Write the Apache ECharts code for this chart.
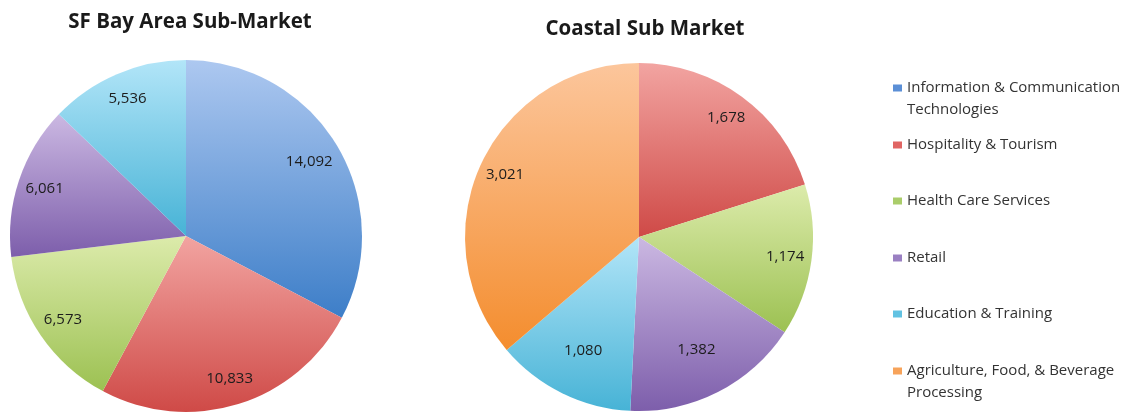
<!DOCTYPE html>
<html>
<head>
<meta charset="utf-8">
<script src="https://cdn.jsdelivr.net/npm/echarts@6/dist/echarts.min.js"></script>
<style>
  html, body { margin: 0; padding: 0; background: #ffffff; }
  #chart { width: 1128px; height: 416px; }
</style>
</head>
<body>
<div id="chart"></div>
<script>
// Employment by industry cluster, two sub-markets
const categories = [
  'Information & Communication Technologies',
  'Hospitality & Tourism',
  'Health Care Services',
  'Retail',
  'Education & Training',
  'Agriculture, Food, & Beverage Processing'
];
const legendLabels = [
  'Information & Communication\nTechnologies',
  'Hospitality & Tourism',
  'Health Care Services',
  'Retail',
  'Education & Training',
  'Agriculture, Food, & Beverage\nProcessing'
];
const bayAreaCategories = categories.slice(0, 5);
const bayAreaValues = [14092, 10833, 6573, 6061, 5536];
const coastalCategories = categories.slice(1);
const coastalValues = [1678, 1174, 1382, 1080, 3021];

// how far out (fraction of the radius) each value label sits
const bayAreaLabelDepth = [0.8, 0.83, 0.83, 0.83, 0.83];
const coastalLabelDepth = [0.83, 0.83, 0.71, 0.71, 0.83];

// light (top) / deep (bottom) / legend swatch shade per cluster
const shades = {
  'Information & Communication Technologies': ['#adc8f0', '#3d7ec8', '#5b8fd6'],
  'Hospitality & Tourism': ['#f2a4a1', '#cf4a47', '#e06563'],
  'Health Care Services': ['#dcebab', '#9cc152', '#aacd6a'],
  'Retail': ['#cbb8e2', '#7d5eab', '#9a80c2'],
  'Education & Training': ['#b2e5f8', '#47b3d6', '#62c2e2'],
  'Agriculture, Food, & Beverage Processing': ['#fcc69c', '#f48d2e', '#f7a35a']
};

function fill(name) {
  const s = shades[name];
  return new echarts.graphic.LinearGradient(0, 0, 0, 1, [
    { offset: 0, color: s[0] },
    { offset: 1, color: s[1] }
  ]);
}

const fmt = p => p.value.toLocaleString('en-US');
const labelStyle = {
  show: true,
  position: 'inside',
  formatter: fmt,
  color: '#1c1c1c',
  fontSize: 15,
  fontFamily: 'Open Sans'
};

function pieSeries(center, r, names, values, depths) {
  const out = [{
    type: 'pie',
    center: center,
    radius: [0, r],
    startAngle: 90,
    clockwise: true,
    silent: true,
    label: { show: false },
    labelLine: { show: false },
    itemStyle: { borderWidth: 0 },
    data: names.map((n, i) => ({ name: n, value: values[i], itemStyle: { color: fill(n) } }))
  }];
  // transparent rings carry the value labels; one ring per label depth
  const uniq = depths.filter((d, i) => depths.indexOf(d) === i);
  uniq.forEach(d => {
    out.push({
      type: 'pie',
      center: center,
      radius: [Math.round(r * (2 * d - 1)), r],
      startAngle: 90,
      clockwise: true,
      silent: true,
      itemStyle: { color: 'rgba(0,0,0,0)', borderWidth: 0 },
      label: labelStyle,
      labelLine: { show: false },
      data: names.map((n, i) => ({ name: n, value: values[i], label: { show: depths[i] === d } }))
    });
  });
  return out;
}

// one legend block per cluster so every entry keeps its own slot;
// wrapped names get an empty leading line so the swatch lines up with the first line
const lineH = 22;
const firstRowY = 88;
const rowStep = 56.6;
const legends = categories.map((name, i) => {
  const twoLine = legendLabels[i].indexOf('\n') >= 0;
  const half = twoLine ? lineH * 1.5 : lineH / 2;
  return {
    orient: 'vertical',
    left: 893,
    top: Math.round(firstRowY + i * rowStep - half),
    padding: 0,
    itemWidth: 9,
    itemHeight: 7,
    itemGap: 0,
    selectedMode: false,
    icon: 'rect',
    data: [{ name: name, itemStyle: { color: shades[name][2] } }],
    formatter: () => (twoLine ? '\n' : '') + legendLabels[i],
    textStyle: {
      fontSize: 15,
      fontFamily: 'Open Sans',
      color: '#333333',
      lineHeight: lineH
    }
  };
});

const titleFont = { fontSize: 20.5, fontWeight: 'bold', fontFamily: 'Open Sans', color: '#1a1a1a' };

const chart = echarts.init(document.getElementById('chart'), null, { renderer: 'canvas' });
chart.setOption({
  backgroundColor: '#ffffff',
  animation: false,
  title: [
    { text: 'SF Bay Area Sub-Market', left: 190, top: 12, padding: 0, textAlign: 'center', textStyle: titleFont },
    { text: 'Coastal Sub Market', left: 645, top: 19, padding: 0, textAlign: 'center', textStyle: titleFont }
  ],
  legend: legends,
  series: [
    ...pieSeries([186, 236], 176, bayAreaCategories, bayAreaValues, bayAreaLabelDepth),
    ...pieSeries([639, 237], 174, coastalCategories, coastalValues, coastalLabelDepth)
  ]
});
</script>
</body>
</html>
